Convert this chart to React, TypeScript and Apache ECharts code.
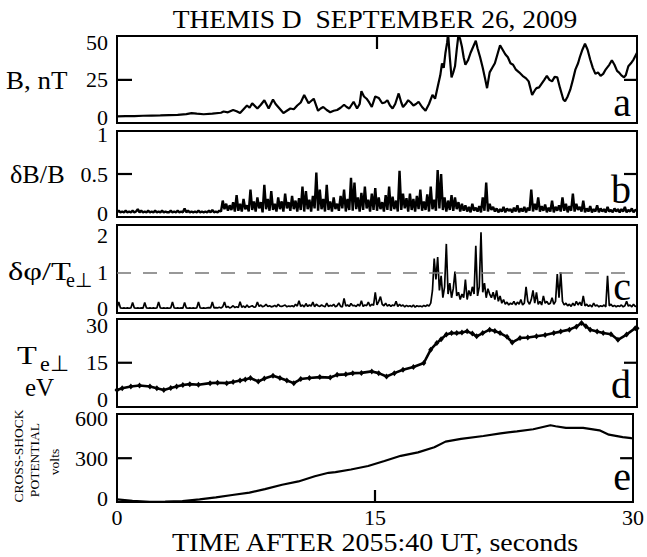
import React, { useEffect, useRef } from "react";
import * as echarts from "echarts";

const FONT = "Liberation Serif, serif";

// ---------- axes ----------
const timeTicks = [0, 15, 30];
const bTicks = [0, 25, 50];
const dbTicks = [0, 0.5, 1];
const phiTicks = [0, 1, 2];
const teTicks = [0, 15, 30];
const potTicks = [0, 300, 600];

// ---------- panel a : B, nT ----------
const bTime = [
  0, 0.5, 1, 1.5, 2, 2.5, 3, 3.5, 4, 4.3, 4.6, 5, 5.5, 6, 6.15, 6.4, 6.7, 6.9, 7.1, 7.3, 7.5, 7.65, 7.8, 8.1, 8.3, 8.5,
  8.75, 9.0, 9.15, 9.3, 9.45, 9.6, 9.8, 10, 10.2, 10.4, 10.6, 10.8, 11.05, 11.2, 11.35, 11.6, 11.75, 11.9, 12.1, 12.3,
  12.5, 12.7, 12.9, 13.1, 13.25, 13.4, 13.65, 13.85, 14.0, 14.1, 14.25, 14.4, 14.55, 14.7, 14.9, 15.1, 15.3, 15.45, 15.6,
  15.75, 15.9, 16.05, 16.25, 16.4, 16.5, 16.65, 16.8, 16.95, 17.1, 17.25, 17.4, 17.6, 17.8, 18.0, 18.2, 18.35, 18.55,
  18.65, 18.75, 18.85, 18.95, 19.05, 19.1, 19.2, 19.3, 19.4, 19.5, 19.6, 19.7, 19.8, 19.9, 20.0, 20.1, 20.25, 20.4, 20.55,
  20.7, 20.8, 20.95, 21.1, 21.25, 21.35, 21.5, 21.65, 21.8, 21.95, 22.1, 22.25, 22.4, 22.55, 22.7, 22.85, 23.0, 23.2,
  23.4, 23.6, 23.75, 23.95, 24.1, 24.2, 24.35, 24.5, 24.65, 24.8, 24.95, 25.1, 25.25, 25.4, 25.55, 25.65, 25.75, 25.85,
  26.0, 26.15, 26.3, 26.45, 26.6, 26.7, 26.85, 27.0, 27.15, 27.3, 27.45, 27.6, 27.75, 27.9, 28.05, 28.2, 28.4, 28.55,
  28.7, 28.85, 28.95, 29.1, 29.25, 29.35, 29.5, 29.65, 29.8, 30,
];
const bValue = [
  0.8, 0.9, 1.0, 1.2, 1.3, 1.4, 1.6, 1.8, 2.3, 3.0, 2.6, 2.2, 2.6, 3.2, 4, 3.5, 5, 4.2, 3, 5.5, 8, 6.5, 9.5, 6, 8.5, 11.5,
  6, 12, 9, 7, 5, 3, 4.5, 6, 5.5, 8, 10, 15, 9.5, 11, 12.5, 4.5, 6, 7, 5, 3.5,
  4.5, 5, 6.5, 8.5, 7, 6, 10.5, 6, 9, 17.5, 14, 12.5, 10, 7, 14, 13, 9.5, 10, 11.5,
  8, 6, 9, 16, 10, 7, 9, 11.5, 10, 8, 9, 10.5, 7, 4.5, 9, 15, 12.5, 23,
  28, 36, 33, 43, 50, 56, 40, 26.7, 30, 34, 45, 55, 52, 47, 40, 35, 38, 43, 47,
  51, 46, 40, 33, 25, 19.5, 30, 33, 36, 42, 48, 45, 42, 40, 36, 35, 32, 30,
  27.7, 26, 24, 15, 18, 19.5, 20, 22.5, 25, 27.7, 25, 24, 27, 26.7, 20, 16, 12, 10.8,
  14, 18.5, 25, 32, 36, 40, 45, 49, 45, 38.5, 33, 29, 30, 27.7, 29, 32, 35, 38,
  35, 31, 30, 28, 26.7, 28, 34, 36, 38.5, 43,
];

// ---------- panel b : dB/B, one value every 0.1 s ----------
const dbStep = 0.1;
const dbValue = [
  0.01, 0.03, 0.01, 0.02, 0.01, 0.03, 0.01, 0.02, 0.01, 0.03,
  0.01, 0.02, 0.05, 0.01, 0.03, 0.01, 0.02, 0.01, 0.03, 0.01,
  0.02, 0.01, 0.03, 0.01, 0.02, 0.01, 0.03, 0.01, 0.02, 0.01,
  0.01, 0.03, 0.01, 0.02, 0.01, 0.03, 0.01, 0.02, 0.01, 0.06,
  0.01, 0.03, 0.01, 0.02, 0.01, 0.02, 0.01, 0.03, 0.01, 0.02,
  0.01, 0.02, 0.01, 0.03, 0.01, 0.04, 0.01, 0.02, 0.01, 0.03,
  0.02, 0.16, 0.05, 0.12, 0.03, 0.10, 0.04, 0.14, 0.02, 0.23,
  0.03, 0.12, 0.02, 0.18, 0.05, 0.10, 0.02, 0.30, 0.04, 0.15,
  0.02, 0.20, 0.06, 0.14, 0.01, 0.36, 0.05, 0.18, 0.03, 0.28,
  0.04, 0.12, 0.02, 0.20, 0.05, 0.15, 0.02, 0.25, 0.06, 0.14,
  0.03, 0.22, 0.05, 0.16, 0.02, 0.19, 0.04, 0.34, 0.02, 0.28,
  0.05, 0.17, 0.02, 0.22, 0.06, 0.52, 0.03, 0.30, 0.05, 0.18,
  0.02, 0.36, 0.04, 0.15, 0.02, 0.20, 0.05, 0.12, 0.03, 0.22,
  0.06, 0.30, 0.02, 0.18, 0.04, 0.45, 0.03, 0.39, 0.05, 0.20,
  0.02, 0.26, 0.04, 0.34, 0.06, 0.17, 0.02, 0.25, 0.04, 0.32,
  0.03, 0.20, 0.05, 0.14, 0.02, 0.23, 0.04, 0.34, 0.03, 0.21,
  0.05, 0.16, 0.02, 0.54, 0.04, 0.25, 0.06, 0.19, 0.02, 0.25,
  0.04, 0.18, 0.02, 0.22, 0.05, 0.30, 0.03, 0.15, 0.04, 0.24,
  0.02, 0.34, 0.05, 0.17, 0.03, 0.55, 0.06, 0.50, 0.04, 0.20,
  0.02, 0.16, 0.04, 0.23, 0.03, 0.20, 0.05, 0.14, 0.02, 0.12,
  0.03, 0.10, 0.02, 0.08, 0.01, 0.12, 0.03, 0.07, 0.02, 0.09,
  0.01, 0.20, 0.03, 0.39, 0.02, 0.12, 0.04, 0.08, 0.02, 0.06,
  0.01, 0.05, 0.02, 0.08, 0.01, 0.06, 0.03, 0.05, 0.01, 0.07,
  0.02, 0.10, 0.01, 0.06, 0.02, 0.08, 0.01, 0.07, 0.03, 0.30,
  0.02, 0.12, 0.04, 0.20, 0.02, 0.09, 0.03, 0.11, 0.01, 0.07,
  0.02, 0.16, 0.01, 0.08, 0.03, 0.10, 0.02, 0.20, 0.03, 0.12,
  0.01, 0.09, 0.03, 0.25, 0.02, 0.12, 0.04, 0.08, 0.02, 0.16,
  0.01, 0.06, 0.02, 0.09, 0.01, 0.05, 0.02, 0.10, 0.01, 0.06,
  0.02, 0.05, 0.01, 0.08, 0.02, 0.04, 0.01, 0.06, 0.02, 0.05,
  0.01, 0.05, 0.02, 0.08, 0.01, 0.04, 0.02, 0.06, 0.01, 0.04,
  0.03,
];

// ---------- panel c : dphi/Te, one value every 0.1 s ----------
const phiStep = 0.1;
const phiValue = [
  0.02, 0.18, 0.02, 0.01, 0.02, 0.01, 0.02, 0.01, 0.02, 0.17,
  0.02, 0.01, 0.02, 0.01, 0.02, 0.01, 0.17, 0.02, 0.01, 0.02,
  0.01, 0.02, 0.01, 0.02, 0.18, 0.02, 0.01, 0.02, 0.01, 0.02,
  0.01, 0.02, 0.18, 0.02, 0.01, 0.02, 0.01, 0.02, 0.01, 0.17,
  0.02, 0.01, 0.02, 0.01, 0.02, 0.01, 0.02, 0.18, 0.02, 0.01,
  0.02, 0.01, 0.02, 0.03, 0.02, 0.18, 0.02, 0.03, 0.02, 0.04,
  0.02, 0.05, 0.18, 0.03, 0.06, 0.02, 0.04, 0.08, 0.03, 0.05,
  0.03, 0.19, 0.04, 0.07, 0.03, 0.10, 0.04, 0.06, 0.08, 0.04,
  0.05, 0.18, 0.06, 0.10, 0.05, 0.07, 0.12, 0.06, 0.08, 0.05,
  0.06, 0.09, 0.05, 0.12, 0.07, 0.06, 0.08, 0.10, 0.05, 0.07,
  0.06, 0.08, 0.05, 0.12, 0.07, 0.22, 0.06, 0.10, 0.05, 0.14,
  0.06, 0.10, 0.07, 0.18, 0.05, 0.12, 0.08, 0.06, 0.10, 0.07,
  0.05, 0.15, 0.06, 0.09, 0.07, 0.12, 0.05, 0.08, 0.16, 0.06,
  0.05, 0.28, 0.07, 0.10, 0.06, 0.14, 0.08, 0.09, 0.06, 0.12,
  0.07, 0.22, 0.06, 0.10, 0.08, 0.18, 0.07, 0.12, 0.09, 0.45,
  0.10, 0.20, 0.33, 0.12, 0.08, 0.15, 0.07, 0.11, 0.06, 0.10,
  0.08, 0.20, 0.06, 0.12, 0.07, 0.10, 0.05, 0.09, 0.06, 0.08,
  0.05, 0.10, 0.04, 0.08, 0.06, 0.07, 0.05, 0.09, 0.06, 0.10,
  0.07, 0.15, 0.50, 1.38, 0.80, 1.42, 0.50, 0.90, 0.30, 0.60,
  1.78, 0.40, 0.70, 0.30, 0.55, 1.02, 0.35, 0.45, 0.25, 0.40,
  0.30, 0.80, 0.25, 0.50, 0.35, 0.60, 0.40, 1.73, 0.35, 0.60,
  2.10, 0.45, 0.70, 0.30, 0.55, 0.40, 0.30, 0.45, 0.25, 0.50,
  0.20, 0.35, 0.15, 0.25, 0.12, 0.18, 0.10, 0.15, 0.12, 0.20,
  0.10, 0.18, 0.12, 0.25, 0.10, 0.15, 0.60, 0.20, 0.12, 0.25,
  0.50, 0.15, 0.45, 0.12, 0.20, 0.10, 0.35, 0.15, 0.20, 0.12,
  0.15, 0.30, 0.12, 0.20, 0.95, 0.30, 1.00, 0.20, 0.10, 0.15,
  0.08, 0.12, 0.06, 0.15, 0.08, 0.20, 0.10, 0.18, 0.08, 0.35,
  0.08, 0.12, 0.06, 0.10, 0.05, 0.15, 0.07, 0.10, 0.05, 0.08,
  0.06, 0.10, 0.05, 0.90, 0.08, 0.12, 0.06, 0.09, 0.05, 0.08,
  0.06, 0.10, 0.05, 0.08, 0.20, 0.07, 0.10, 0.05, 0.12, 0.06,
  0.08,
];
const phiThreshold = 1;

// ---------- panel d : Te perp, eV ----------
const teTime = [
  0, 0.3, 0.8, 1.3, 1.9, 2.3, 2.7, 3.1, 3.44, 3.8, 4.2, 4.7, 5.37, 5.8, 6.33, 6.7, 7.1, 7.4, 7.7, 8.15, 8.5, 9.0, 9.4,
  9.8, 10.2, 10.6, 11.1, 11.7, 12.3, 12.7, 13.2, 13.6, 14.1, 14.7, 15.1, 15.55, 16.0, 16.5, 17.1, 17.7, 18.1, 18.45,
  18.7, 19.0, 19.3, 19.6, 19.9, 20.2, 20.5, 20.75, 21.1, 21.5, 21.8, 22.1, 22.5, 22.8, 23.25, 23.7, 24.2, 24.7, 25.2,
  25.6, 26.1, 26.5, 26.8, 27.05, 27.3, 27.7, 28.05, 28.5, 28.9, 29.4, 29.9, 30,
];
const teValue = [
  4.0, 4.7, 5.4, 5.8, 5.4, 4.7, 4.0, 4.8, 5.4, 6.0, 6.35, 6.1, 6.75, 6.9, 6.75, 7.2, 7.8, 8.2, 8.8, 7.4, 8.6, 9.7, 8.8,
  7.8, 6.75, 8.4, 8.8, 9.2, 9.0, 10.1, 10.3, 10.8, 10.9, 11.5, 10.8, 9.45, 10.8, 12.2, 13.3, 14.9, 20.3, 23,
  24.5, 26.4, 27.0, 27, 27.2, 27.7, 26.8, 25.7, 27, 28.4, 27.8, 27, 25.5, 23.2, 25, 25.2, 25.7, 26.2, 27,
  27.6, 28.4, 29.6, 31.1, 29.8, 28.4, 27.6, 27, 26.5, 24.3, 26.4, 29, 29,
];

// ---------- panel e : cross-shock potential, volts ----------
const potTime = [
  0, 0.9, 1.9, 2.8, 3.8, 4.8, 5.75, 6.7, 7.7, 8.6, 9.6, 10.55, 11.5, 12.3, 12.7, 13.6, 14.6, 15.55, 16.5, 17.5, 18.45,
  19.1, 20, 21.3, 22.3, 23.25, 24.2, 25.2, 25.5, 26.1, 27.1, 28.05, 28.6, 29.4, 29.9, 30,
];
const potValue = [
  -10, -21, -28, -27, -23, -10, 5, 23, 41, 67, 100, 125, 164, 190, 195, 215, 241, 279, 318, 344, 382,
  425, 446, 467, 487, 502, 518, 548, 541, 528, 528, 510, 477, 459, 451, 450,
];

const panelLetters = ["a", "b", "c", "d", "e"];

function pairs(t: number[], v: number[]) {
  return v.map((y, i) => [t[i], y]);
}
function stepped(step: number, v: number[]) {
  return v.map((y, i) => [Math.round(i * step * 1000) / 1000, y]);
}

const W = 647;
const GL = 117;
const GR = 10;
const T_MIN = 0;
const T_MAX = 30;

export default function App() {
  const ref = useRef<HTMLDivElement>(null);

  useEffect(() => {
    if (!ref.current) return;
    const chart = echarts.init(ref.current, undefined, { renderer: "svg" });

    const panels = [
      { top: 36, height: 87, min: -3.6, max: 54.1, labels: bTicks, tick: true },
      { top: 131, height: 86, min: -0.05, max: 1.05, labels: dbTicks, tick: true },
      { top: 225, height: 88, min: -0.12, max: 2.3, labels: phiTicks, tick: false },
      { top: 319, height: 88, min: -2.9, max: 32.7, labels: teTicks, tick: true },
      { top: 414, height: 88, min: -30, max: 633, labels: potTicks, tick: true },
    ];

    const grids = panels.map((g) => ({
      left: GL,
      right: GR,
      top: g.top,
      height: g.height,
      show: true,
      borderColor: "#000",
      borderWidth: 2,
      backgroundColor: "transparent",
    }));

    const labelStyle = { color: "#000", fontFamily: FONT, fontSize: 22 };
    const noLine = { show: false, onZero: false };

    const xAxes: any[] = panels.map((_, i) => ({
      type: "value",
      gridIndex: i,
      min: T_MIN,
      max: T_MAX,
      position: "bottom",
      axisLine: noLine,
      splitLine: { show: false },
      axisTick: { show: false },
      axisLabel:
        i === 4
          ? { show: true, customValues: timeTicks, margin: 4, ...labelStyle }
          : { show: false },
    }));

    const yAxes: any[] = panels.map((r, i) => ({
      type: "value",
      gridIndex: i,
      min: r.min,
      max: r.max,
      position: "left",
      axisLine: noLine,
      splitLine: { show: false },
      axisTick: { show: false },
      axisLabel: { show: true, customValues: r.labels, margin: 9, ...labelStyle },
    }));

    // inner tick marks: lengths in pixels, turned into data units of each panel
    const secPerPx = (T_MAX - T_MIN) / (W - GL - GR);
    const tickSegs = (i: number) => {
      const p = panels[i];
      const unitPerPx = (p.max - p.min) / p.height;
      const out: number[][][] = [];
      if (p.tick) {
        const v = p.labels[1];
        out.push([[T_MIN, v], [T_MIN + 15 * secPerPx, v]]);
        out.push([[T_MAX - 13 * secPerPx, v], [T_MAX, v]]);
      }
      if (i === 0) out.push([[timeTicks[1], p.max], [timeTicks[1], p.max - 13 * unitPerPx]]);
      if (i === 4) out.push([[timeTicks[1], p.min], [timeTicks[1], p.min + 12 * unitPerPx]]);
      return out;
    };

    const base = { type: "line", symbol: "none", silent: true, clip: true };

    const series: any[] = [
      {
        ...base,
        xAxisIndex: 0,
        yAxisIndex: 0,
        data: pairs(bTime, bValue),
        lineStyle: { color: "#000", width: 2.2 },
      },
      {
        ...base,
        xAxisIndex: 1,
        yAxisIndex: 1,
        data: stepped(dbStep, dbValue),
        lineStyle: { color: "#000", width: 2.4 },
      },
      {
        ...base,
        xAxisIndex: 2,
        yAxisIndex: 2,
        data: stepped(phiStep, phiValue),
        lineStyle: { color: "#000", width: 1.7 },
        markLine: {
          silent: true,
          symbol: "none",
          label: { show: false },
          lineStyle: { color: "#777", width: 1.5, type: [14, 12] },
          data: [{ yAxis: phiThreshold }],
        },
      },
      {
        ...base,
        xAxisIndex: 3,
        yAxisIndex: 3,
        data: pairs(teTime, teValue),
        symbol: "diamond",
        symbolSize: [5, 6],
        showSymbol: true,
        itemStyle: { color: "#000" },
        lineStyle: { color: "#000", width: 2.6 },
      },
      {
        ...base,
        xAxisIndex: 4,
        yAxisIndex: 4,
        data: pairs(potTime, potValue),
        lineStyle: { color: "#000", width: 2.2 },
      },
    ];

    // each tick mark is its own tiny two-point line series in its panel
    panels.forEach((_, i) => {
      tickSegs(i).forEach((segPts) => {
        series.push({
          type: "line",
          xAxisIndex: i,
          yAxisIndex: i,
          data: segPts,
          symbol: "none",
          silent: true,
          clip: false,
          z: 10,
          lineStyle: { color: "#000", width: 2.2 },
        });
      });
    });

    const txt = (text: string, x: number, y: number, size: number, opts: any = {}) => ({
      type: "text",
      x,
      y,
      scaleX: opts.scaleX ?? 1,
      rotation: opts.rotation ?? 0,
      silent: true,
      style: {
        text,
        fill: "#000",
        fontSize: size,
        fontFamily: FONT,
        textAlign: opts.align ?? "left",
        align: opts.align ?? "left",
        textVerticalAlign: "middle",
        verticalAlign: "middle",
      },
    });

    const letterPos = [102.5, 189.5, 286.5, 384.5, 476.5];

    const graphic: any[] = [
      txt("THEMIS D  SEPTEMBER 26, 2009", 375, 20, 25, { align: "center", scaleX: 1.1 }),
      txt("TIME AFTER 2055:40 UT, seconds", 375, 543, 25, { align: "center", scaleX: 1.12 }),
      txt("B, nT", 6, 81, 25, { scaleX: 1.08 }),
      txt("δB/B", 10, 175, 25, { scaleX: 1.05 }),
      txt("δφ/T", 8, 271, 25, { scaleX: 1.3 }),
      txt("e⊥", 66, 280, 20),
      txt("T", 17, 355, 25, { scaleX: 1.3 }),
      txt("e⊥", 40, 363, 22),
      txt("eV", 25, 387, 25),
      txt("CROSS-SHOCK", 18, 456, 13.5, { align: "center", rotation: Math.PI / 2 }),
      txt("POTENTIAL", 34, 460, 13.5, { align: "center", rotation: Math.PI / 2 }),
      txt("volts", 54, 462, 13.5, { align: "center", rotation: Math.PI / 2 }),
      ...panelLetters.map((l, i) => txt(l, 631, letterPos[i], 40, { align: "right" })),
    ];

    chart.setOption({
      animation: false,
      backgroundColor: "#fff",
      textStyle: { fontFamily: FONT },
      grid: grids,
      xAxis: xAxes,
      yAxis: yAxes,
      series,
      graphic,
    });

    return () => chart.dispose();
  }, []);

  return (
    <div
      ref={ref}
      style={{ position: "absolute", left: 0, top: 0, width: W, height: 557, background: "#fff" }}
    />
  );
}
